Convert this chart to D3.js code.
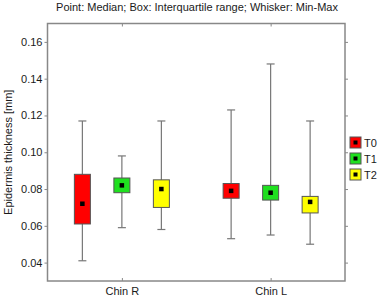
<!DOCTYPE html>
<html>
<head>
<meta charset="utf-8">
<script src="https://cdn.jsdelivr.net/npm/d3@7"></script>
<style>
  body { margin: 0; background: #fff; }
  text { font-family: "Liberation Sans", Arial, sans-serif; fill: #1a1a1a; }
</style>
</head>
<body>
<svg width="380" height="298"></svg>
<script>
const categories = ["Chin R", "Chin L"]
const series = ["T0", "T1", "T2"]
const colors = ["#ff0000", "#1fe01f", "#ffff00"]
const yTicks = [0.04, 0.06, 0.08, 0.10, 0.12, 0.14, 0.16]

// values indexed [category][series]
const minV = [[0.041, 0.059, 0.058], [0.053, 0.055, 0.050]]
const q1V = [[0.061, 0.078, 0.070], [0.075, 0.074, 0.067]]
const medV = [[0.072, 0.082, 0.080], [0.079, 0.078, 0.073]]
const q3V = [[0.088, 0.086, 0.085], [0.083, 0.082, 0.076]]
const maxV = [[0.117, 0.098, 0.117], [0.123, 0.148, 0.117]]

const frame = { left: 47.5, right: 345, top: 23.5, bottom: 281 }

const svg = d3.select('svg')

let y = d3.scaleLinear()
    .domain([0.03, 0.17])
    .range([frame.bottom, frame.top])

let x = d3.scalePoint()
    .domain(categories)
    .range([frame.left, frame.right])
    .padding(0.5)

let offset = d3.scalePoint()
    .domain(series)
    .range([-39.5, 39.5])

const boxW = 16, capW = 8, medW = 4.5

// title
svg.append('text')
    .attr('x', 197)
    .attr('y', 11)
    .attr('text-anchor', 'middle')
    .style('font-size', '11px')
    .text('Point: Median; Box: Interquartile range; Whisker: Min-Max')

// y axis title
svg.append('text')
    .attr('transform', `translate(12, ${(frame.top + frame.bottom) / 2}) rotate(-90)`)
    .attr('text-anchor', 'middle')
    .style('font-size', '11px')
    .text('Epidermis thickness [mm]')

// axes
const axLeft = svg.append('g')
    .attr('transform', `translate(${frame.left},0)`)
    .call(d3.axisLeft(y).tickValues(yTicks).tickSize(3).tickPadding(2).tickFormat(d3.format('.2f')))
axLeft.select('.domain').remove()
axLeft.selectAll('.tick line').attr('stroke', '#888')
axLeft.selectAll('.tick text').style('font-size', '11px').attr('fill', '#1a1a1a')

const axRight = svg.append('g')
    .attr('transform', `translate(${frame.right},0)`)
    .call(d3.axisRight(y).tickValues(yTicks).tickSize(3).tickFormat(''))
axRight.select('.domain').remove()
axRight.selectAll('.tick line').attr('stroke', '#888')

const axBottom = svg.append('g')
    .attr('transform', `translate(0,${frame.bottom})`)
    .call(d3.axisBottom(x).tickSize(-3).tickPadding(6))
axBottom.select('.domain').remove()
axBottom.selectAll('.tick line').attr('stroke', '#888')
axBottom.selectAll('.tick text').style('font-size', '11px').attr('fill', '#1a1a1a')

const axTop = svg.append('g')
    .attr('transform', `translate(0,${frame.top})`)
    .call(d3.axisTop(x).tickSize(-3).tickFormat(''))
axTop.select('.domain').remove()
axTop.selectAll('.tick line').attr('stroke', '#888')

// frame
svg.append('rect')
    .attr('x', frame.left)
    .attr('y', frame.top)
    .attr('width', frame.right - frame.left)
    .attr('height', frame.bottom - frame.top)
    .attr('fill', 'none')
    .attr('stroke', '#888')
    .attr('stroke-width', 1.5)

// boxes
const items = []
categories.forEach((c, ci) => {
    series.forEach((s, si) => {
        items.push({ c, s, si, min: minV[ci][si], q1: q1V[ci][si], med: medV[ci][si], q3: q3V[ci][si], max: maxV[ci][si] })
    })
})

const g = svg.selectAll('.box')
    .data(items)
    .enter()
    .append('g')
    .attr('class', 'box')
    .attr('transform', d => `translate(${x(d.c) + offset(d.s)},0)`)

g.append('line')
    .attr('y1', d => y(d.min))
    .attr('y2', d => y(d.max))
    .attr('stroke', '#777')
    .attr('stroke-width', 1.2)

g.selectAll('.cap')
    .data(d => [d.min, d.max])
    .enter()
    .append('line')
    .attr('x1', -capW / 2)
    .attr('x2', capW / 2)
    .attr('y1', v => y(v))
    .attr('y2', v => y(v))
    .attr('stroke', '#777')
    .attr('stroke-width', 1.2)

g.append('rect')
    .attr('x', -boxW / 2)
    .attr('y', d => y(d.q3))
    .attr('width', boxW)
    .attr('height', d => y(d.q1) - y(d.q3))
    .attr('fill', d => colors[d.si])
    .attr('stroke', '#555')
    .attr('stroke-width', 1)

g.append('rect')
    .attr('x', -medW / 2)
    .attr('y', d => y(d.med) - medW / 2)
    .attr('width', medW)
    .attr('height', medW)
    .attr('fill', '#000')

// legend
const legend = svg.selectAll('.legend')
    .data(series)
    .enter()
    .append('g')
    .attr('class', 'legend')
    .attr('transform', (d, i) => `translate(350, ${137 + i * 16})`)

legend.append('rect')
    .attr('width', 11)
    .attr('height', 11)
    .attr('fill', (d, i) => colors[i])
    .attr('stroke', '#555')

legend.append('rect')
    .attr('x', 3.5)
    .attr('y', 3.5)
    .attr('width', 4)
    .attr('height', 4)
    .attr('fill', '#000')

legend.append('text')
    .attr('x', 14)
    .attr('y', 6)
    .attr('dy', '0.35em')
    .style('font-size', '11px')
    .text(d => d)
</script>
</body>
</html>
